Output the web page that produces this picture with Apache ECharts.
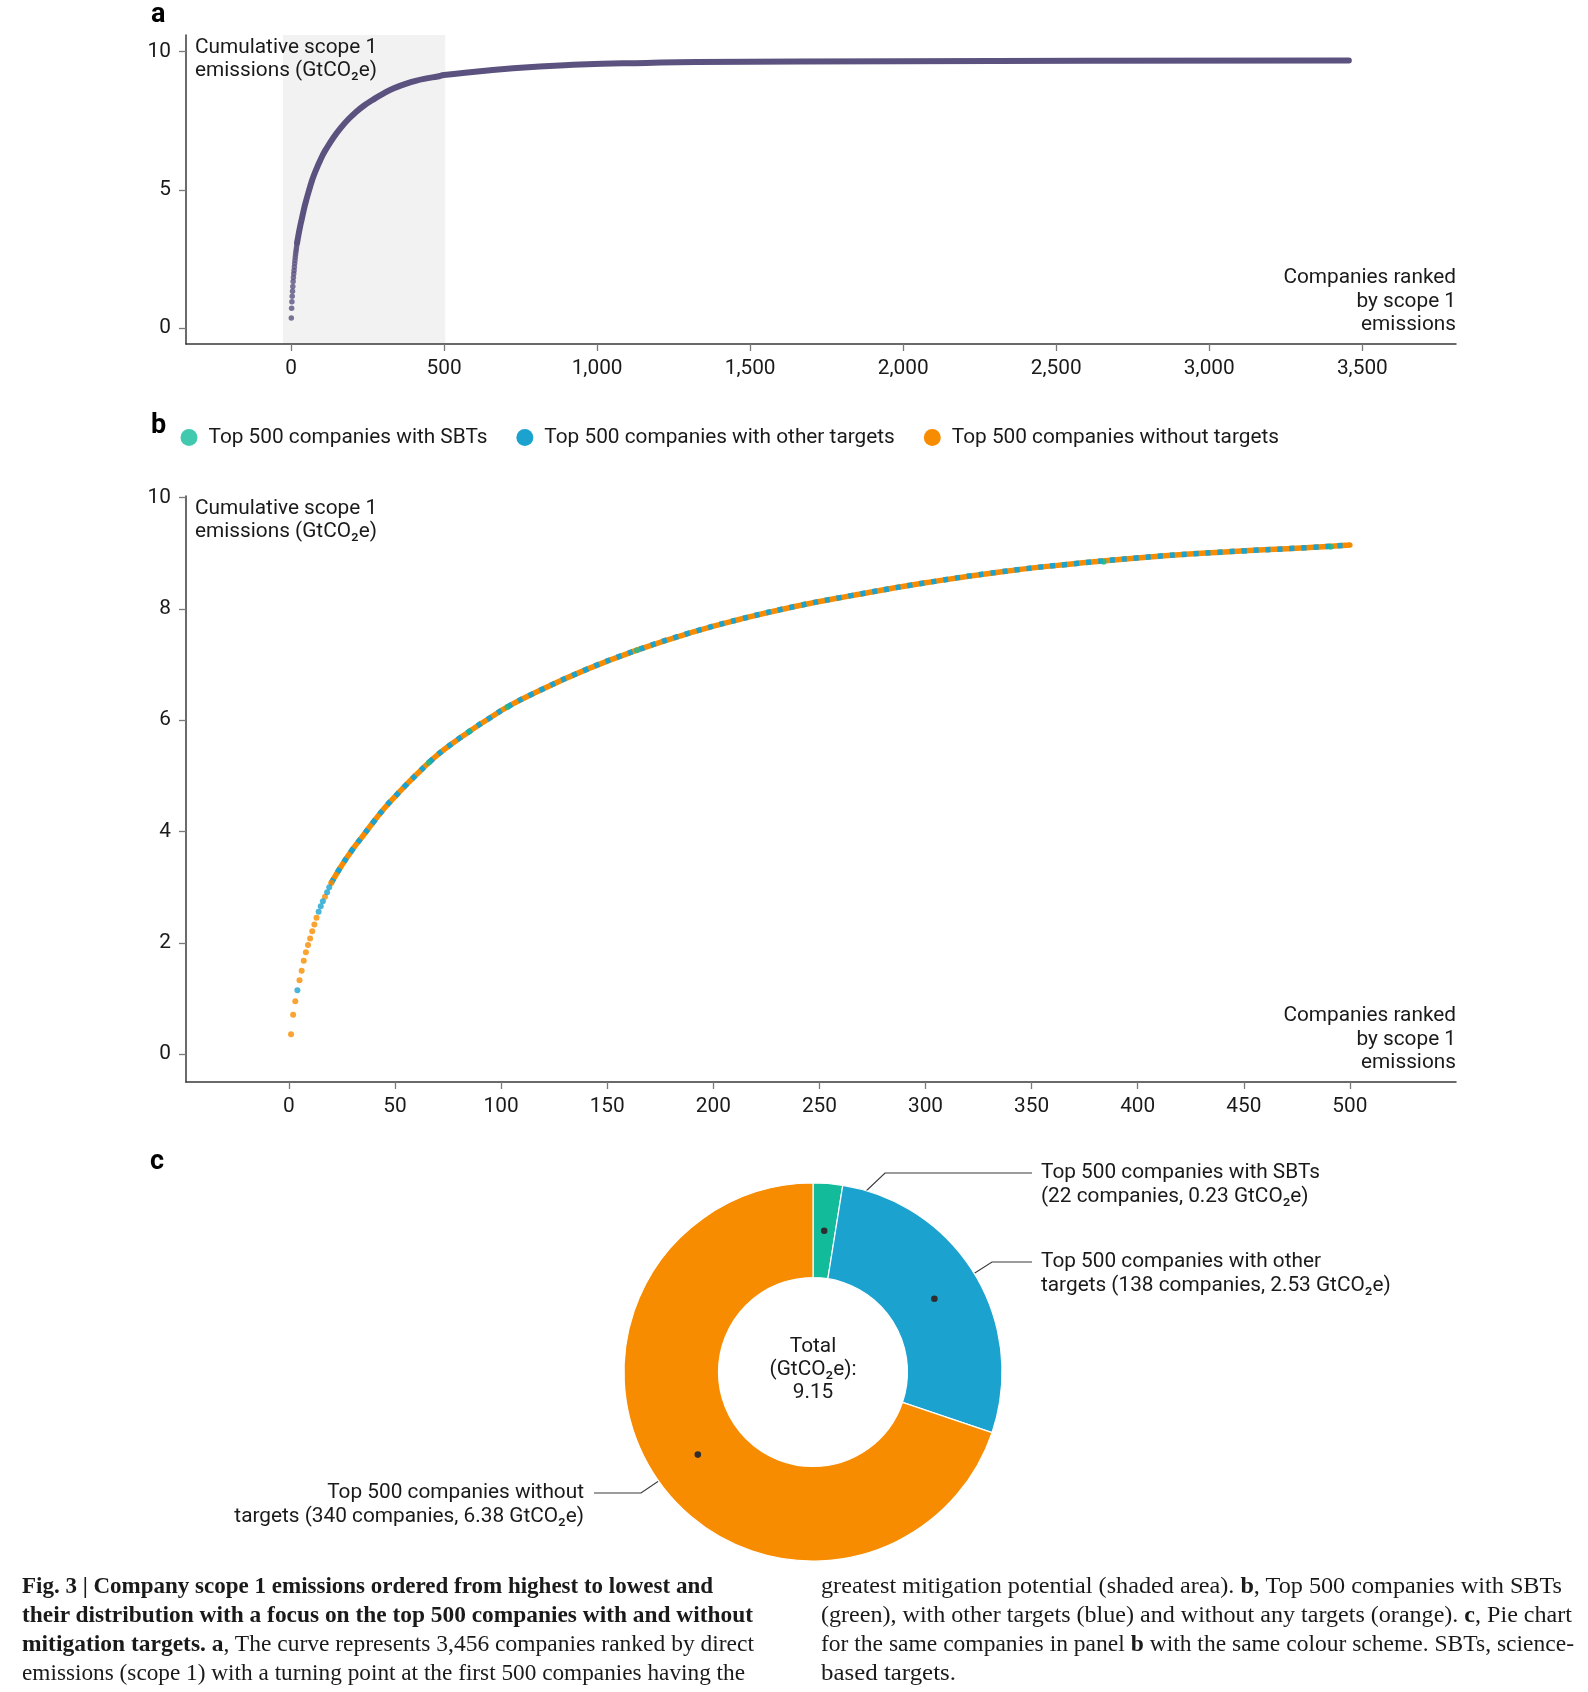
<!DOCTYPE html>
<html>
<head>
<meta charset="utf-8">
<script src="https://cdn.jsdelivr.net/npm/echarts@6/dist/echarts.min.js"></script>
<style>
html,body{margin:0;padding:0;background:#fff;}
#chart{position:absolute;left:0;top:0;width:1588px;height:1692px;}
.cap{position:absolute;white-space:nowrap;font-family:'Liberation Serif','DejaVu Serif',serif;font-size:23px;line-height:29px;color:#1a1a1a;transform-origin:0 50%;}
.cap b{font-weight:700;}
</style>
</head>
<body>
<div id="chart"></div>
<div id="caption"></div>
<script>
// ---------------- DATA ----------------
// Individually visible leading companies (rank, cumulative GtCO2e, group)
const ranksHead  = [1,2,3,4,5,6,7,8,9,10,11,12,13,14,15,16,17,18,19,20];
const valuesHead = [0.36,0.71,0.95,1.15,1.33,1.50,1.68,1.83,1.96,2.08,2.21,2.33,2.45,2.56,2.66,2.75,2.83,2.91,3.00,3.08];
const groupHead  = ['none','none','none','other','none','none','none','none','none','none','none','none','none','other','other','other','none','other','other','none'];

// Cumulative curve anchors for the rest of the top 500
const ranksBody  = [20,25,30,35,40,45,50,55,60,66,73,85,95,103,114,140,164,189,213,239,265,300,336,372,407,443,479,500];
const valuesBody = [3.08,3.40,3.68,3.93,4.18,4.42,4.63,4.83,5.02,5.24,5.47,5.80,6.05,6.24,6.46,6.91,7.26,7.57,7.82,8.05,8.24,8.47,8.67,8.82,8.94,9.03,9.10,9.15];

// Tail of all 3,456 companies (panel a)
const ranksTail  = [726,944,1161,1324,2000,2600,3456];
const valuesTail = [9.40,9.53,9.59,9.62,9.65,9.67,9.68];

// Visible SBT (green) points in panel b
const sbtRanks  = [66,85,103,164,384,491];
const sbtValues = [5.24,5.80,6.24,7.26,8.85,9.12];

// Shaded area in panel a (rank range)
const shadeRange = [-26, 504];

// Axes
const xTicksA = [0,500,1000,1500,2000,2500,3000,3500];
const yTicksA = [0,5,10];
const xTicksB = [0,50,100,150,200,250,300,350,400,450,500];
const yTicksB = [0,2,4,6,8,10];
const xRangeA = [-343, 3806], yRangeA = [-0.58, 10.6];
const xRangeB = [-48.5, 550], yRangeB = [-0.5, 10.03];

// Panel c
const seriesNames = ['Top 500 companies with SBTs','Top 500 companies with other targets','Top 500 companies without targets'];
const pieKeys   = ['SBTs','Other targets','Without targets'];
const pieValues = [0.23, 2.53, 6.38];
const pieCounts = [22, 138, 340];
const pieLabelFirst = ['Top 500 companies with SBTs','Top 500 companies with other','Top 500 companies without'];
const pieLabelSecondPrefix = ['(', 'targets (', 'targets ('];
const totalLabel = '9.15';

// ---------------- STYLE / LAYOUT ----------------
const FONT = 'Roboto';
const FS = 20.8;
const TXT = '#1a1a1a';
const AX = '#3a3a3a';
const TICK = '#7a7a7a';
const PURPLE = '#5c527f';
const GREEN = '#12bc9b';
const BLUE = '#1ba2cf';
const ORANGE = '#f88c00';
const COLORS = [GREEN, BLUE, ORANGE];
const PIE = {cx: 813, cy: 1372, r0: 94.5, r1: 189};
// leader layout (relative to the pie centre): kink point, line end x, text x
const LEADER = [
  {kx: 72,  ky: -199, ex: 219,  tx: 228,  align: 'left'},
  {kx: 179, ky: -110, ex: 219,  tx: 228,  align: 'left'},
  {kx: -172,ky: 121,  ex: -219, tx: -229, align: 'right'}
];
const LH = 23.5;
const SMOOTH = 0.5;

const curveA = ranksBody.map((r,i)=>[r, valuesBody[i]]).concat(ranksTail.map((r,i)=>[r, valuesTail[i]]));
const curveB = ranksBody.map((r,i)=>[r, valuesBody[i]]);
const headAll = ranksHead.map((r,i)=>[r, valuesHead[i]]);
const headNone = ranksHead.map((r,i)=>[r, valuesHead[i], groupHead[i]]).filter(d=>d[2]==='none').map(d=>[d[0],d[1]]);
const headOther = ranksHead.map((r,i)=>[r, valuesHead[i], groupHead[i]]).filter(d=>d[2]==='other').map(d=>[d[0],d[1]]);
const sbtPts = sbtRanks.map((r,i)=>[r, sbtValues[i]]);

const pieTotal = pieValues.reduce((a,b)=>a+b,0);
const pieMid = [];
{
  let cum = 0;
  pieValues.forEach(v=>{
    const th = (cum + v/2)/pieTotal*2*Math.PI;
    const rm = (PIE.r0 + PIE.r1)/2;
    pieMid.push([PIE.cx + rm*Math.sin(th), PIE.cy - rm*Math.cos(th)]);
    cum += v;
  });
}
const pieLabels = pieValues.map((v,i)=> pieLabelFirst[i] + '\n' + pieLabelSecondPrefix[i] + pieCounts[i] + ' companies, ' + v.toFixed(2) + ' GtCO₂e)');

function fmt(v){ return v.toLocaleString('en-US'); }

function xAxisCfg(grid, range, ticks){
  return {
    gridIndex: grid, type: 'value', min: range[0], max: range[1], z: 10,
    axisLine: {show: true, onZero: false, lineStyle: {color: AX, width: 1.5}},
    axisTick: {show: true, customValues: ticks, length: 7, lineStyle: {color: TICK, width: 1.3}},
    axisLabel: {show: true, customValues: ticks, formatter: fmt, fontSize: FS, color: TXT, margin: 14, fontFamily: FONT},
    splitLine: {show: false},
    name: 'Companies ranked\nby scope 1\nemissions', nameLocation: 'end', nameGap: 0,
    nameTextStyle: {align: 'right', verticalAlign: 'bottom', fontSize: FS, lineHeight: LH, color: TXT, padding: [0,0,7,0], fontFamily: FONT}
  };
}
function yAxisCfg(grid, range, ticks){
  return {
    gridIndex: grid, type: 'value', min: range[0], max: range[1], z: 10,
    axisLine: {show: true, onZero: false, lineStyle: {color: AX, width: 1.5}},
    axisTick: {show: true, customValues: ticks, length: 7, lineStyle: {color: TICK, width: 1.3}},
    axisLabel: {show: true, customValues: ticks, formatter: fmt, fontSize: FS, color: TXT, margin: 15, fontFamily: FONT},
    splitLine: {show: false},
    name: 'Cumulative scope 1\nemissions (GtCO₂e)', nameLocation: 'end', nameGap: 0,
    nameTextStyle: {align: 'left', verticalAlign: 'top', fontSize: FS, lineHeight: LH, color: TXT, padding: [1,0,0,9], fontFamily: FONT}
  };
}

const graphics = [
  {type:'text', x:151, y:15, style:{text:'a', fontSize:27, fontWeight:'bold', fontFamily:FONT, fill:'#000', align:'left', verticalAlign:'middle'}},
  {type:'text', x:151, y:426, style:{text:'b', fontSize:27, fontWeight:'bold', fontFamily:FONT, fill:'#000', align:'left', verticalAlign:'middle'}},
  {type:'text', x:150, y:1162, style:{text:'c', fontSize:27, fontWeight:'bold', fontFamily:FONT, fill:'#000', align:'left', verticalAlign:'middle'}},
  {type:'text', x:PIE.cx, y:PIE.cy-2, z:50, style:{text:'Total\n(GtCO₂e):\n' + totalLabel, fontSize:FS, lineHeight:23.3, fontFamily:FONT, fill:TXT, align:'center', verticalAlign:'middle'}}
].concat(pieMid.map(p=>({type:'circle', z:60, shape:{cx:p[0], cy:p[1], r:3.3}, style:{fill:'#2e2e2e'}})));

const option = {
  animation: false,
  textStyle: {fontFamily: FONT},
  grid: [
    {left: 186, top: 35, width: 1270, height: 309},
    {left: 186, top: 496, width: 1270, height: 586}
  ],
  xAxis: [xAxisCfg(0, xRangeA, xTicksA), xAxisCfg(1, xRangeB, xTicksB)],
  yAxis: [yAxisCfg(0, yRangeA, yTicksA), yAxisCfg(1, yRangeB, yTicksB)],
  legend: {
    data: seriesNames.map((n,i)=>({name: n, itemStyle: {color: COLORS[i]}})),
    left: 180.5, top: 427, padding: 0, itemWidth: 17, itemHeight: 17, icon: 'circle', itemGap: 29,
    selectedMode: false,
    textStyle: {fontSize: FS, color: TXT, fontFamily: FONT, padding: [0,0,0,6]}
  },
  graphic: graphics,
  series: [
    // panel a
    {type: 'line', xAxisIndex: 0, yAxisIndex: 0, data: [], silent: true, z: 1,
     markArea: {silent: true, itemStyle: {color: '#f2f2f2'}, data: [[{xAxis: shadeRange[0]}, {xAxis: shadeRange[1]}]]}},
    {type: 'line', xAxisIndex: 0, yAxisIndex: 0, data: curveA, showSymbol: false, smooth: SMOOTH, silent: true, z: 3,
     lineStyle: {color: PURPLE, width: 6, cap: 'round', join: 'round'}, itemStyle: {color: PURPLE}},
    {type: 'scatter', xAxisIndex: 0, yAxisIndex: 0, data: headAll, symbolSize: 5.5, silent: true, z: 4, itemStyle: {color: PURPLE}},
    // panel b
    {name: seriesNames[2], type: 'line', xAxisIndex: 1, yAxisIndex: 1, data: curveB, showSymbol: false, smooth: SMOOTH, silent: true, z: 3,
     lineStyle: {color: ORANGE, width: 5.5, cap: 'round', join: 'round'}, itemStyle: {color: ORANGE}},
    {name: seriesNames[1], type: 'line', xAxisIndex: 1, yAxisIndex: 1, data: curveB, showSymbol: false, smooth: SMOOTH, silent: true, z: 4,
     lineStyle: {color: BLUE, width: 5.5, type: [5, 7], cap: 'butt'}, itemStyle: {color: BLUE}},
    {name: seriesNames[2], type: 'scatter', xAxisIndex: 1, yAxisIndex: 1, data: headNone, symbolSize: 6, silent: true, z: 5, itemStyle: {color: ORANGE}},
    {name: seriesNames[1], type: 'scatter', xAxisIndex: 1, yAxisIndex: 1, data: headOther, symbolSize: 6, silent: true, z: 5, itemStyle: {color: BLUE}},
    {name: seriesNames[0], type: 'scatter', xAxisIndex: 1, yAxisIndex: 1, data: sbtPts, symbolSize: 6, silent: true, z: 6, itemStyle: {color: GREEN}},
    // panel c
    {type: 'pie', center: [PIE.cx, PIE.cy], radius: [PIE.r0, PIE.r1], startAngle: 90, clockwise: true,
     avoidLabelOverlap: false, silent: true, z: 10,
     itemStyle: {borderColor: '#fff', borderWidth: 1.2},
     data: pieKeys.map((k,i)=>({name: k, value: pieValues[i], itemStyle: {color: COLORS[i]}})),
     label: {show: true, position: 'outside', formatter: p => pieLabels[p.dataIndex], fontSize: FS, lineHeight: LH, color: TXT, fontFamily: FONT},
     labelLine: {show: true, lineStyle: {color: '#3a3a3a', width: 1.2}},
     labelLayout: function(params){
       const i = params.dataIndex;
       const L = LEADER[i];
       const d = pieMid[i];
       const kink = [PIE.cx + L.kx, PIE.cy + L.ky];
       const end = [PIE.cx + L.ex, PIE.cy + L.ky];
       return {
         x: PIE.cx + L.tx, y: PIE.cy + L.ky + LH/2,
         align: L.align, verticalAlign: 'middle',
         labelLinePoints: [d, kink, end]
       };
     }}
  ]
};

const chart = echarts.init(document.getElementById('chart'), null, {renderer: 'canvas'});
chart.setOption(option);

// ---------------- CAPTION ----------------
const capLeft = [
  '<b>Fig. 3 | Company scope 1 emissions ordered from highest to lowest and</b>',
  '<b>their distribution with a focus on the top 500 companies with and without</b>',
  '<b>mitigation targets. a</b>, The curve represents 3,456 companies ranked by direct',
  'emissions (scope 1) with a turning point at the first 500 companies having the'
];
const capRight = [
  'greatest mitigation potential (shaded area). <b>b</b>, Top 500 companies with SBTs',
  '(green), with other targets (blue) and without any targets (orange). <b>c</b>, Pie chart',
  'for the same companies in panel <b>b</b> with the same colour scheme. SBTs, science-',
  'based targets.'
];
const capLeftX = 22, capRightX = 821, capTop = 1571, capLH = 29;
const capLeftEnds = [713, 753, 754, 745];
const capRightEnds = [1562, 1572, 1574, 956];
const capBox = document.getElementById('caption');
function addLines(lines, x0, ends){
  lines.forEach((html, i)=>{
    const d = document.createElement('div');
    d.className = 'cap';
    d.style.left = x0 + 'px';
    d.style.top = (capTop + i*capLH) + 'px';
    d.innerHTML = html;
    capBox.appendChild(d);
    const w = d.getBoundingClientRect().width;
    const s = (ends[i] - x0) / w;
    d.style.transform = 'scaleX(' + s.toFixed(4) + ')';
  });
}
addLines(capLeft, capLeftX, capLeftEnds);
addLines(capRight, capRightX, capRightEnds);
</script>
</body>
</html>
